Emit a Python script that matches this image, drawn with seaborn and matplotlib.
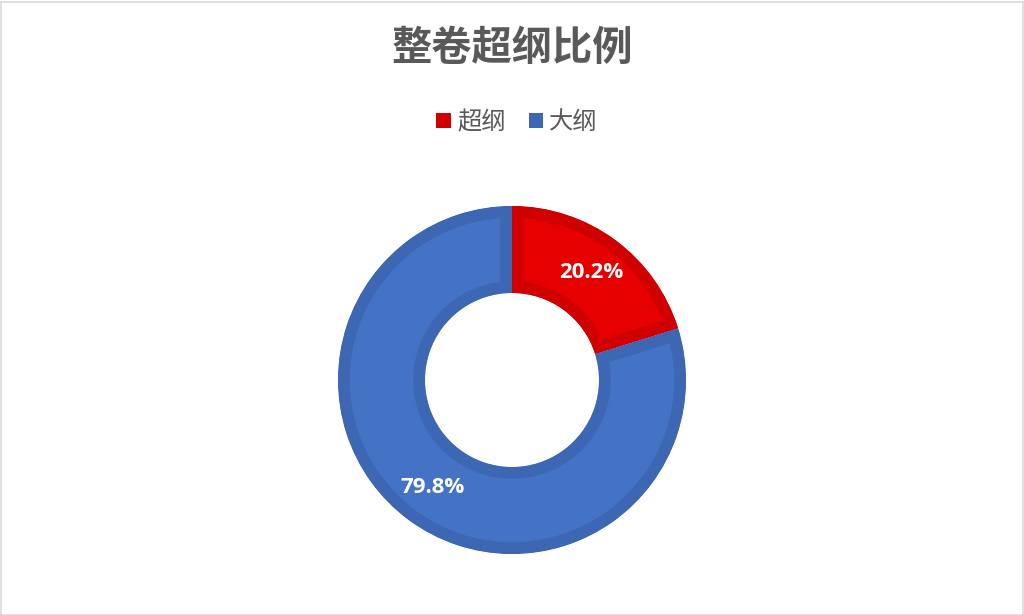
import matplotlib
matplotlib.use("Agg")
import matplotlib.pyplot as plt
import seaborn as sns
from matplotlib.patches import Rectangle

sns.set_theme(style="white")
plt.rcParams['font.family'] = ['Noto Sans CJK SC', 'DejaVu Sans']

title = "整卷超纲比例"
categories = ["超纲", "大纲"]
values = [20.2, 79.8]
fill_colors = ["#E60000", "#4472C4"]
edge_colors = ["#D00000", "#3E67B3"]

W, H, DPI = 1024, 615, 100
fig = plt.figure(figsize=(W / DPI, H / DPI), dpi=DPI)
fig.patch.set_facecolor("white")

# figure frame
fig.add_artist(Rectangle((0.5 / W, 0.5 / H), 1 - 2 / W, 1 - 2 / H, transform=fig.transFigure,
                         fill=False, edgecolor="#D9D9D9", linewidth=1.2))

cx, cy, R = 512, 380, 174
ax = fig.add_axes([(cx - R) / W, (H - cy - R) / H, 2 * R / W, 2 * R / H])
wedges, texts, autotexts = ax.pie(
    values, labels=None, colors=fill_colors, startangle=90, counterclock=False,
    radius=1.0, wedgeprops=dict(width=0.5, linewidth=17),
    autopct="%.1f%%", pctdistance=0.77,
    textprops=dict(color="white", fontsize=16, fontweight="bold", family=["Open Sans", "DejaVu Sans"]))
ax.set_xlim(-1, 1)
ax.set_ylim(-1, 1)
ax.set_aspect("equal")
ax.axis("off")
for w, ec in zip(wedges, edge_colors):
    w.set_edgecolor(ec)
    w.set_clip_on(True)
    w.set_clip_path(w)

fig.text(0.5, 1 - 48 / H, title, ha="center", va="center", fontsize=29,
         fontweight="bold", color="#595959")

leg = fig.legend(wedges, categories, loc="center", bbox_to_anchor=(0.5 + 5 / W, 1 - 122 / H),
                 ncol=2, frameon=False, fontsize=17.5, handlelength=0.6, handleheight=0.6,
                 handletextpad=0.25, columnspacing=0.95)
for t in leg.get_texts():
    t.set_color("#595959")
for h, ec in zip(leg.legend_handles, edge_colors):
    h.set_linewidth(0)
    h.set_facecolor(ec)

fig.savefig("out.png", dpi=DPI, facecolor="white")
